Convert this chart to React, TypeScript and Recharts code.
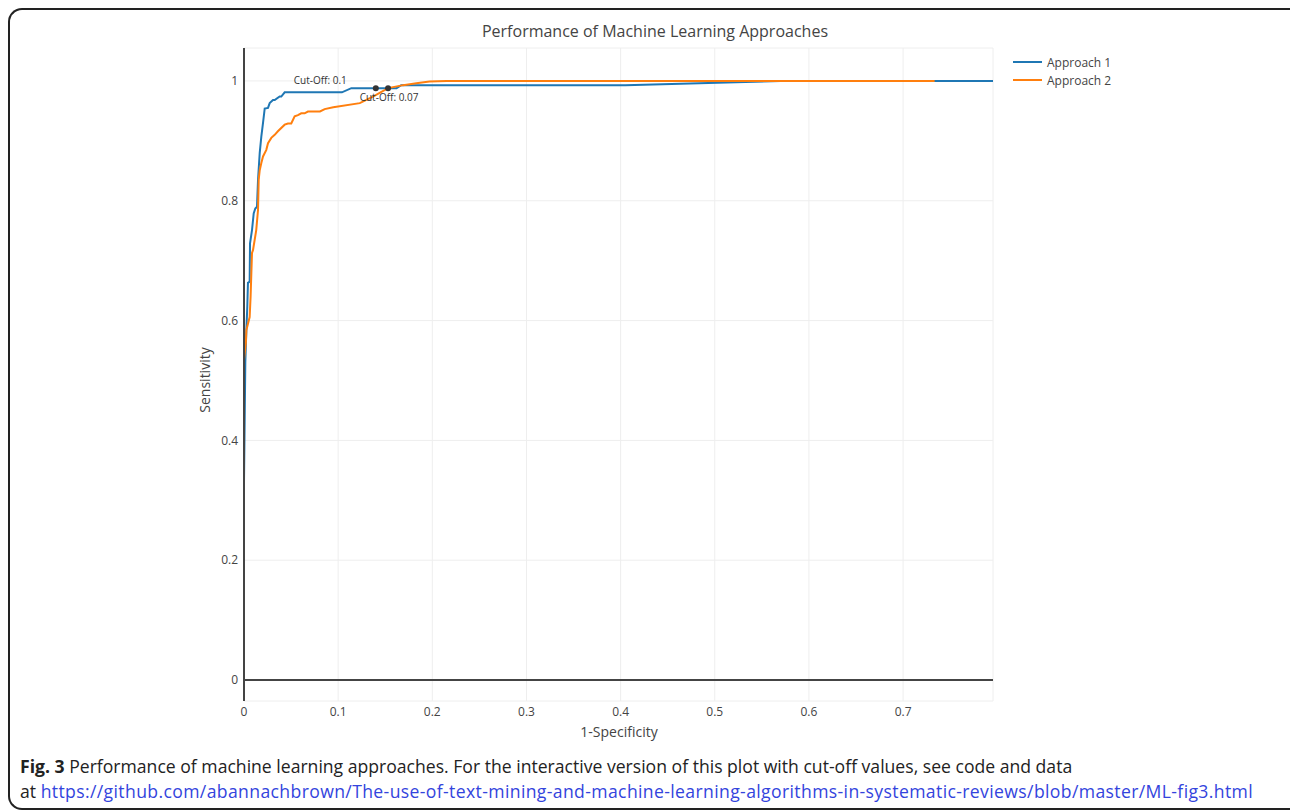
import React from "react";
import { ComposedChart, Line, Scatter, XAxis, YAxis, CartesianGrid, ReferenceLine } from "recharts";

// ROC points (x = 1-specificity, y = sensitivity)
const approach1X = [0, 0, 0.0014, 0.0025, 0.0035, 0.0042, 0.006, 0.0064, 0.0085, 0.0103, 0.012, 0.0138, 0.0149, 0.0167, 0.0184, 0.0202, 0.022, 0.0255, 0.0273, 0.0308, 0.0326, 0.0379, 0.0396, 0.0432, 0.104, 0.114, 0.162, 0.167, 0.405, 0.57, 0.7955];
const approach1Y = [0, 0.33, 0.53, 0.584, 0.623, 0.663, 0.665, 0.729, 0.751, 0.779, 0.787, 0.79, 0.835, 0.88, 0.907, 0.93, 0.954, 0.955, 0.963, 0.968, 0.968, 0.974, 0.974, 0.981, 0.981, 0.988, 0.988, 0.993, 0.993, 1, 1];

const approach2X = [0, 0, 0.002, 0.0025, 0.006, 0.007, 0.0085, 0.0096, 0.013, 0.0149, 0.0156, 0.0167, 0.0184, 0.0202, 0.0237, 0.0255, 0.029, 0.0326, 0.036, 0.0432, 0.0467, 0.0502, 0.0538, 0.0573, 0.0608, 0.0644, 0.0679, 0.0807, 0.0857, 0.0948, 0.123, 0.137, 0.153, 0.169, 0.183, 0.197, 0.215, 0.7335];
const approach2Y = [0, 0.534, 0.563, 0.584, 0.606, 0.64, 0.713, 0.718, 0.751, 0.785, 0.835, 0.851, 0.863, 0.874, 0.885, 0.896, 0.905, 0.91, 0.916, 0.927, 0.929, 0.929, 0.941, 0.943, 0.946, 0.946, 0.949, 0.949, 0.953, 0.956, 0.963, 0.974, 0.988, 0.993, 0.996, 0.999, 1, 1];

const cutoffX = [0.14, 0.153];
const cutoffY = [0.988, 0.988];
const cutoffLabels = ["Cut-Off: 0.1", "Cut-Off: 0.07"];

const xTicks = [0, 0.1, 0.2, 0.3, 0.4, 0.5, 0.6, 0.7];
const yTicks = [0, 0.2, 0.4, 0.6, 0.8, 1];

const seriesNames = ["Approach 1", "Approach 2"];
const seriesColors = ["#1f77b4", "#ff7f0e"];

const zip = (xs: number[], ys: number[]) => xs.map((x, i) => ({ x, y: ys[i] }));
const series = [zip(approach1X, approach1Y), zip(approach2X, approach2Y)];
const cutoffs = cutoffX.map((x, i) => ({ x, y: cutoffY[i], label: cutoffLabels[i] }));

// where each annotation text sits relative to its dot
const labelPlacement: Record<string, { dx: number; dy: number; anchor: "end" | "middle" }> = {
  "Cut-Off: 0.1": { dx: -29, dy: -8, anchor: "end" },
  "Cut-Off: 0.07": { dx: 1, dy: 9, anchor: "middle" },
};

const font = "'Open Sans', sans-serif";
const axisText = { fill: "#444", fontSize: 12, fontFamily: font };

const CutoffShape = (props: any) => {
  const { cx, cy, payload } = props;
  const p = labelPlacement[payload.label];
  return (
    <g>
      <circle cx={cx} cy={cy} r={3} fill="#333" />
      <text
        x={cx + p.dx}
        y={cy + p.dy}
        textAnchor={p.anchor}
        dominantBaseline="central"
        fontSize={10}
        fontFamily={font}
        fill="#333"
      >
        {payload.label}
      </text>
    </g>
  );
};

export default function App() {
  return (
    <div style={{ position: "fixed", left: 0, top: 0, width: 1290, height: 810, overflow: "hidden", background: "#fff" }}>
      <style>{`body{margin:0}`}</style>
      <div style={{ position: "absolute", left: 8, top: 8, width: 1282, height: 802, overflow: "hidden", fontFamily: font }}>
        <div
          style={{
            position: "absolute",
            left: 0,
            top: 0,
            width: 1400,
            height: 798,
            borderLeft: "2px solid #222",
            borderTop: "2px solid #222",
            borderBottom: "2px solid #222",
            borderRadius: "14px 0 0 14px",
          }}
        />
        <div
          style={{
            position: "absolute",
            left: 347,
            top: 12,
            width: 600,
            textAlign: "center",
            fontSize: 16,
            lineHeight: "22px",
            color: "#444",
          }}
        >
          Performance of Machine Learning Approaches
        </div>

        <div style={{ position: "absolute", left: 0, top: 0 }}>
          <ComposedChart width={1282} height={750} margin={{ top: 40, right: 297, bottom: 27, left: 200 }}>
            <CartesianGrid stroke="#eee" strokeWidth={1} horizontal vertical />
            <XAxis
              type="number"
              dataKey="x"
              domain={[0, 0.7955]}
              ticks={xTicks}
              allowDataOverflow
              axisLine={false}
              tickLine={false}
              tickSize={0}
              tickMargin={6}
              height={30}
              tick={axisText}
              interval={0}
            />
            <YAxis
              type="number"
              dataKey="y"
              domain={[-0.035, 1.055]}
              ticks={yTicks}
              allowDataOverflow
              axisLine={{ stroke: "#444", strokeWidth: 2 }}
              tickLine={false}
              tickSize={0}
              tickMargin={6}
              width={36}
              tick={axisText}
              interval={0}
            />
            <ReferenceLine y={0} stroke="#444" strokeWidth={2} />
            {series.map((d, i) => (
              <Line
                key={seriesNames[i]}
                data={d}
                dataKey="y"
                name={seriesNames[i]}
                type="linear"
                stroke={seriesColors[i]}
                strokeWidth={2}
                dot={false}
                activeDot={false}
                isAnimationActive={false}
              />
            ))}
            <Scatter data={cutoffs} dataKey="y" shape={CutoffShape} isAnimationActive={false} />
          </ComposedChart>
        </div>

        <div
          style={{
            position: "absolute",
            left: 196,
            top: 372,
            transform: "translate(-50%, -50%) rotate(-90deg)",
            fontSize: 14,
            color: "#444",
            whiteSpace: "nowrap",
          }}
        >
          Sensitivity
        </div>
        <div
          style={{
            position: "absolute",
            left: 611,
            top: 723,
            transform: "translate(-50%, -50%)",
            fontSize: 14,
            color: "#444",
            whiteSpace: "nowrap",
          }}
        >
          1-Specificity
        </div>

        <div style={{ position: "absolute", left: 1005, top: 45, fontSize: 12, color: "#444" }}>
          {seriesNames.map((name, i) => (
            <div key={name} style={{ display: "flex", alignItems: "center", height: 18 }}>
              <div style={{ width: 29, height: 2, background: seriesColors[i], marginRight: 5 }} />
              <span>{name}</span>
            </div>
          ))}
        </div>

        <div
          style={{
            position: "absolute",
            left: 12,
            top: 746,
            fontSize: 17.6,
            lineHeight: "25px",
            color: "#222",
            whiteSpace: "nowrap",
          }}
        >
          <div>
            <b>Fig. 3</b> Performance of machine learning approaches. For the interactive version of this plot with cut-off values, see code and data
          </div>
          <div>
            at{" "}
            <span style={{ color: "#3344dd", letterSpacing: 0.37 }}>
              https://github.com/abannachbrown/The-use-of-text-mining-and-machine-learning-algorithms-in-systematic-reviews/blob/master/ML-fig3.html
            </span>
          </div>
        </div>
      </div>
    </div>
  );
}
